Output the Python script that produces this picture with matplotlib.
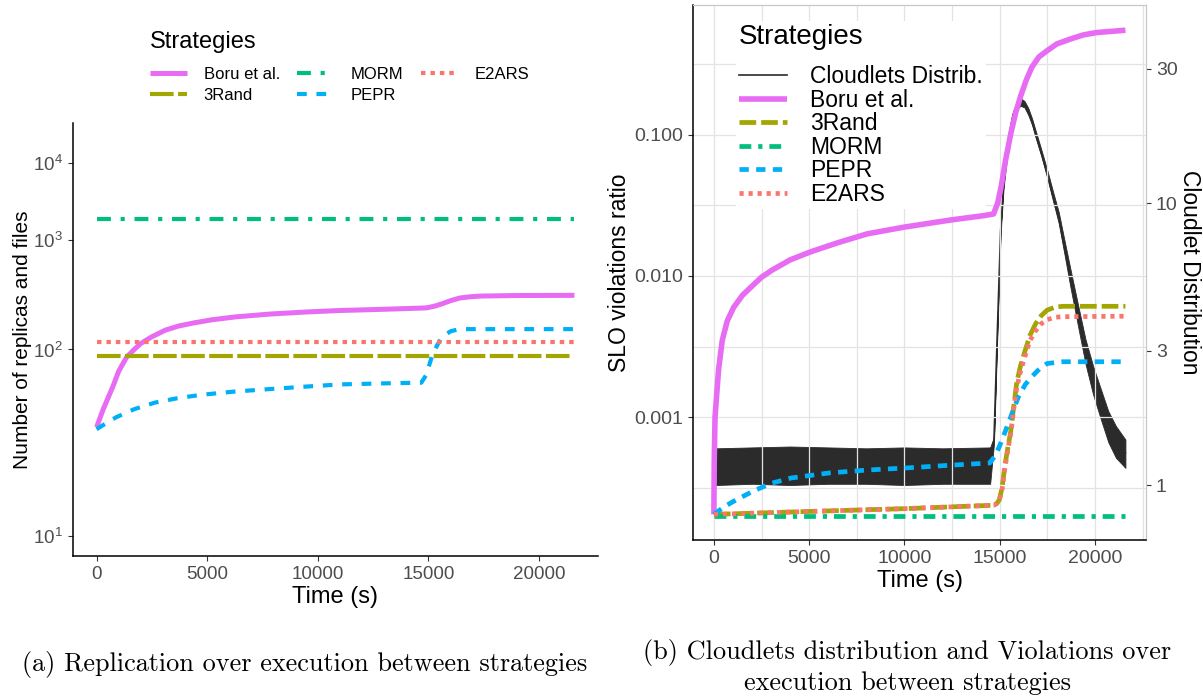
import matplotlib
matplotlib.use('Agg')
import matplotlib.pyplot as plt
import numpy as np
from matplotlib.ticker import FixedLocator, NullLocator, FixedFormatter

plt.rcParams['font.family'] = ['Liberation Sans', 'DejaVu Sans']
plt.rcParams['mathtext.default'] = 'regular'
plt.rcParams['lines.scale_dashes'] = False

# ---- data: (a) replication ----
strategies = ['Boru et al.', '3Rand', 'MORM', 'PEPR', 'E2ARS']
colors = {'Boru et al.': '#E76BF3', '3Rand': '#A3A500', 'MORM': '#00BF7D',
          'PEPR': '#00B0F6', 'E2ARS': '#F8766D'}

t_span = [0, 21600]
boru_t = [0, 300, 730, 1000, 1360, 1700, 2000, 2500, 3110, 3700, 4370, 5200, 6280, 7800,
          9450, 11000, 12610, 14000, 14910, 15300, 15630, 16000, 16420, 16900, 17370, 19000, 21600]
boru_v = [31.5, 40, 55, 70, 88, 100, 111, 125, 141, 152, 161, 171, 181, 191,
          199, 205, 209, 213, 216, 224, 235, 250, 264, 271, 275, 278, 279]
pepr_t = [0, 400, 890, 1700, 2630, 3600, 4690, 6200, 7860, 9500, 11030, 13000, 14680,
          14900, 15150, 15400, 15630, 16000, 16400, 21600]
pepr_v = [30.7, 33, 35.9, 40, 43.8, 46.5, 48.9, 51.3, 53.3, 55.3, 57.1, 58, 58.6,
          66, 88, 108, 125, 138, 143.6, 143.6]
morm_v = [1790, 1790]
rand_v = [89.5, 89.5]
e2ars_v = [113, 113]

# ---- data: (b) SLO violations ----
boru_t2 = [0, 20, 60, 140, 250, 440, 700, 1040, 1500, 2050, 2500, 3050, 4000, 5060, 6500,
           8060, 10000, 12500, 14200, 14680, 14900, 15085, 15300, 15590, 15850, 16090,
           16400, 16690, 17050, 17490, 18000, 18700, 19400, 20100, 21600]
boru_v2 = [2.05e-4, 5e-4, 1e-3, 1.4e-3, 2.2e-3, 3.5e-3, 4.8e-3, 6.0e-3, 7.3e-3, 8.6e-3, 9.8e-3,
           0.011, 0.013, 0.0148, 0.0172, 0.0199, 0.0222, 0.025, 0.0268, 0.0275, 0.033, 0.0435,
           0.065, 0.103, 0.145, 0.186, 0.245, 0.301, 0.355, 0.394, 0.44, 0.476, 0.51, 0.53, 0.55]
rise_t2 = [0, 5000, 10000, 14700, 14850, 14985, 15130, 15290, 15440, 15590, 15740, 15890,
           16090, 16290, 16590, 16890, 17190, 17490, 17890, 18290, 21600]
rand_v2 = [2.05e-4, 2.15e-4, 2.25e-4, 2.38e-4, 2.45e-4, 2.6e-4, 3.2e-4, 4.7e-4, 6.2e-4, 8.1e-4,
           1.2e-3, 1.74e-3, 2.3e-3, 2.83e-3, 3.8e-3, 4.6e-3, 5.25e-3, 5.73e-3, 6.0e-3, 6.1e-3, 6.1e-3]
e2ars_v2 = [2.05e-4, 2.15e-4, 2.25e-4, 2.38e-4, 2.45e-4, 2.6e-4, 3.1e-4, 4.5e-4, 6.0e-4, 7.8e-4,
            1.15e-3, 1.6e-3, 2.1e-3, 2.6e-3, 3.5e-3, 4.1e-3, 4.6e-3, 4.9e-3, 5.1e-3, 5.15e-3, 5.19e-3]
pepr_t2 = [0, 500, 1040, 2050, 3000, 4050, 6060, 8000, 10070, 12300, 14480, 14750, 14985,
           15240, 15490, 15740, 15990, 16340, 16690, 17090, 17490, 18290, 21600]
pepr_v2 = [2.05e-4, 2.3e-4, 2.54e-4, 2.99e-4, 3.4e-4, 3.71e-4, 4.03e-4, 4.22e-4, 4.37e-4, 4.56e-4,
           4.74e-4, 5.3e-4, 6.2e-4, 7.6e-4, 9.3e-4, 1.15e-3, 1.4e-3, 1.7e-3, 1.94e-3, 2.2e-3,
           2.4e-3, 2.47e-3, 2.47e-3]
morm_v2 = [2.0e-4, 2.0e-4]

# cloudlets distribution (secondary axis): centre and noise envelope
cd_t = [100, 2000, 4000, 6000, 8000, 10000, 12000, 14500, 14700, 14880, 15050, 15200, 15400,
        15550, 15700, 15900, 16100, 16300, 16500, 16700, 16900, 17200, 17500, 17800, 18100,
        18400, 18700, 19100, 19500, 19900, 20300, 20700, 21100, 21600]
cd_mid = [1.16, 1.17, 1.16, 1.17, 1.17, 1.16, 1.16, 1.17, 1.44, 3.55, 8.0, 11.5, 15.3,
          18.3, 20.6, 22.2, 22.9, 22.5, 21.2, 19.5, 17.5, 15.0, 12.7, 10.6, 8.9,
          7.0, 5.5, 4.07, 3.0, 2.36, 1.95, 1.61, 1.41, 1.30]
cd_low = [1.00, 1.01, 1.00, 1.01, 1.01, 1.00, 1.01, 1.01, 1.40, 3.45, 7.8, 11.2, 14.9,
          17.8, 20.0, 21.6, 22.2, 21.9, 20.6, 19.0, 17.0, 14.6, 12.3, 10.2, 8.5,
          6.6, 5.1, 3.7, 2.7, 2.1, 1.72, 1.42, 1.25, 1.15]
cd_high = [1.35, 1.36, 1.37, 1.36, 1.35, 1.36, 1.35, 1.36, 1.48, 3.65, 8.2, 11.8, 15.7,
           18.8, 21.2, 22.8, 23.6, 23.1, 21.8, 20.0, 18.0, 15.4, 13.1, 11.0, 9.3,
           7.4, 5.9, 4.4, 3.3, 2.65, 2.2, 1.83, 1.62, 1.45]

x_ticks = [0, 5000, 10000, 15000, 20000]
tick_grey = '#4D4D4D'

W, H = 1203, 700
fig = plt.figure(figsize=(W / 100, H / 100), dpi=100)

def box(l, t, r, b):
    return [l / W, 1 - b / H, (r - l) / W, (b - t) / H]

# ================= (a) =================
ax = fig.add_axes(box(72.7, 123, 598.3, 556))

def fwd(v):
    v = np.clip(np.asarray(v, float), 1.5, None)
    return np.log(np.log10(v))

def inv(u):
    return 10 ** np.exp(np.asarray(u, float))

ax.set_yscale('function', functions=(fwd, inv))

styles_a = {
    'Boru et al.': dict(lw=3.6),
    '3Rand': dict(lw=3.0, dashes=(17, 3.2)),
    'MORM': dict(lw=3.0, dashes=(10, 7, 3, 7)),
    'PEPR': dict(lw=3.0, dashes=(7, 7)),
    'E2ARS': dict(lw=3.0, dashes=(3.2, 3.6)),
}
series_a = {
    'Boru et al.': (boru_t, boru_v),
    '3Rand': (t_span, rand_v),
    'MORM': (t_span, morm_v),
    'PEPR': (pepr_t, pepr_v),
    'E2ARS': (t_span, e2ars_v),
}
for name in strategies:
    t, v = series_a[name]
    ax.plot(t, v, color=colors[name], label=name, solid_capstyle='butt',
            dash_capstyle='butt', **styles_a[name])

ax.set_xlim(-1080, 22680)
ax.set_ylim(8.48, 43700)
ax.yaxis.set_major_locator(FixedLocator([10, 100, 1000, 10000]))
ax.yaxis.set_major_formatter(FixedFormatter(['$10^{1}$', '$10^{2}$', '$10^{3}$', '$10^{4}$']))
ax.yaxis.set_minor_locator(NullLocator())
ax.set_xticks(x_ticks)
ax.set_xticklabels([str(x) for x in x_ticks])
for s in ['top', 'right']:
    ax.spines[s].set_visible(False)
for s in ['left', 'bottom']:
    ax.spines[s].set_linewidth(1.1)
ax.tick_params(colors='#333333', labelcolor=tick_grey, labelsize=13.5, length=3.5, width=0.8)
ax.set_xlabel('Time (s)', fontsize=17, labelpad=2)
ax.set_ylabel('Number of replicas and files', fontsize=15, labelpad=1)

leg_a = fig.legend(*ax.get_legend_handles_labels(), ncol=3, loc='upper left',
                   bbox_to_anchor=(142 / W, 1 - 23 / H), frameon=False,
                   title='Strategies', title_fontsize=17, fontsize=12,
                   alignment='left', handlelength=2.2, handletextpad=1.0,
                   columnspacing=1.05, labelspacing=0.33, borderpad=0)
leg_a._legend_box.sep = 10

# ================= (b) =================
bx = fig.add_axes(box(693.3, 5, 1146, 540))
cx = bx.twinx()
bx.set_zorder(cx.get_zorder() + 1)
bx.patch.set_visible(False)

cd_line = cx.plot(cd_t, cd_mid, color='#2B2B2B', lw=1.2, label='Cloudlets Distrib.')[0]
cx.fill_between(cd_t, cd_low, cd_high, color='#2B2B2B', lw=0.6)
cx.set_yscale('log')
cx.set_ylim(0.638, 50.6)
cx.yaxis.set_major_locator(FixedLocator([1, 3, 10, 30]))
cx.yaxis.set_major_formatter(FixedFormatter(['1', '3', '10', '30']))
cx.yaxis.set_minor_locator(NullLocator())
cx.set_ylabel('Cloudlet Distribution', fontsize=16.5, rotation=270, labelpad=17)

styles_b = {
    'Boru et al.': dict(lw=4.0),
    '3Rand': dict(lw=3.4, dashes=(12, 3.6)),
    'MORM': dict(lw=3.4, dashes=(8.5, 5, 3, 5)),
    'PEPR': dict(lw=3.4, dashes=(6.7, 5.3)),
    'E2ARS': dict(lw=3.4, dashes=(3, 3.5)),
}
series_b = {
    'Boru et al.': (boru_t2, boru_v2),
    '3Rand': (rise_t2, rand_v2),
    'MORM': (t_span, morm_v2),
    'PEPR': (pepr_t2, pepr_v2),
    'E2ARS': (rise_t2, e2ars_v2),
}
handles_b = [cd_line]
for name in strategies:
    t, v = series_b[name]
    h = bx.plot(t, v, color=colors[name], label=name, solid_capstyle='butt',
                dash_capstyle='butt', **styles_b[name])[0]
    handles_b.append(h)

bx.set_yscale('log')
bx.set_ylim(1.35e-4, 0.83)
bx.set_xlim(-1080, 22680)
bx.yaxis.set_major_locator(FixedLocator([0.001, 0.01, 0.1]))
bx.yaxis.set_major_formatter(FixedFormatter(['0.001', '0.010', '0.100']))
bx.yaxis.set_minor_locator(FixedLocator([10 ** -3.5, 10 ** -2.5, 10 ** -1.5, 10 ** -0.5]))
bx.set_xticks(x_ticks)
bx.set_xticklabels([str(x) for x in x_ticks])
bx.xaxis.set_minor_locator(FixedLocator([2500, 7500, 12500, 17500, 22500]))
bx.grid(True, which='both', color='#E3E3E3', lw=0.9)
bx.set_axisbelow(True)

for a in (bx, cx):
    a.tick_params(which='major', colors='#333333', labelcolor=tick_grey, labelsize=14,
                  length=3.5, width=0.8)
    a.tick_params(which='minor', length=0)
bx.spines['left'].set_linewidth(1.1)
bx.spines['bottom'].set_linewidth(1.1)
for s in ['top', 'right']:
    bx.spines[s].set_color('#C8C8C8')
    cx.spines[s].set_color('#C8C8C8')
cx.spines['left'].set_visible(False)
cx.spines['bottom'].set_visible(False)
bx.set_xlabel('Time (s)', fontsize=17, labelpad=2)
bx.set_ylabel('SLO violations ratio', fontsize=16.5, labelpad=3)

leg_b = bx.legend(handles_b, [h.get_label() for h in handles_b], loc='upper left',
                  bbox_to_anchor=(0.068, 0.992), frameon=True, facecolor='white',
                  edgecolor='none', framealpha=1, title='Strategies', title_fontsize=20,
                  fontsize=16.5, alignment='left', handlelength=2.1, handletextpad=1.0,
                  labelspacing=0.02, borderpad=0.15)
leg_b._legend_box.sep = 11

# ---- captions ----
fig.text(305 / W, 1 - 665 / H, '(a) Replication over execution between strategies',
         family='cmr10', fontsize=18.9, ha='center', va='center')
fig.text(907 / W, 1 - 667 / H, '(b) Cloudlets distribution and Violations over\nexecution between strategies',
         family='cmr10', fontsize=18.9, ha='center', va='center', linespacing=1.33)

fig.savefig('out.png', dpi=100)
